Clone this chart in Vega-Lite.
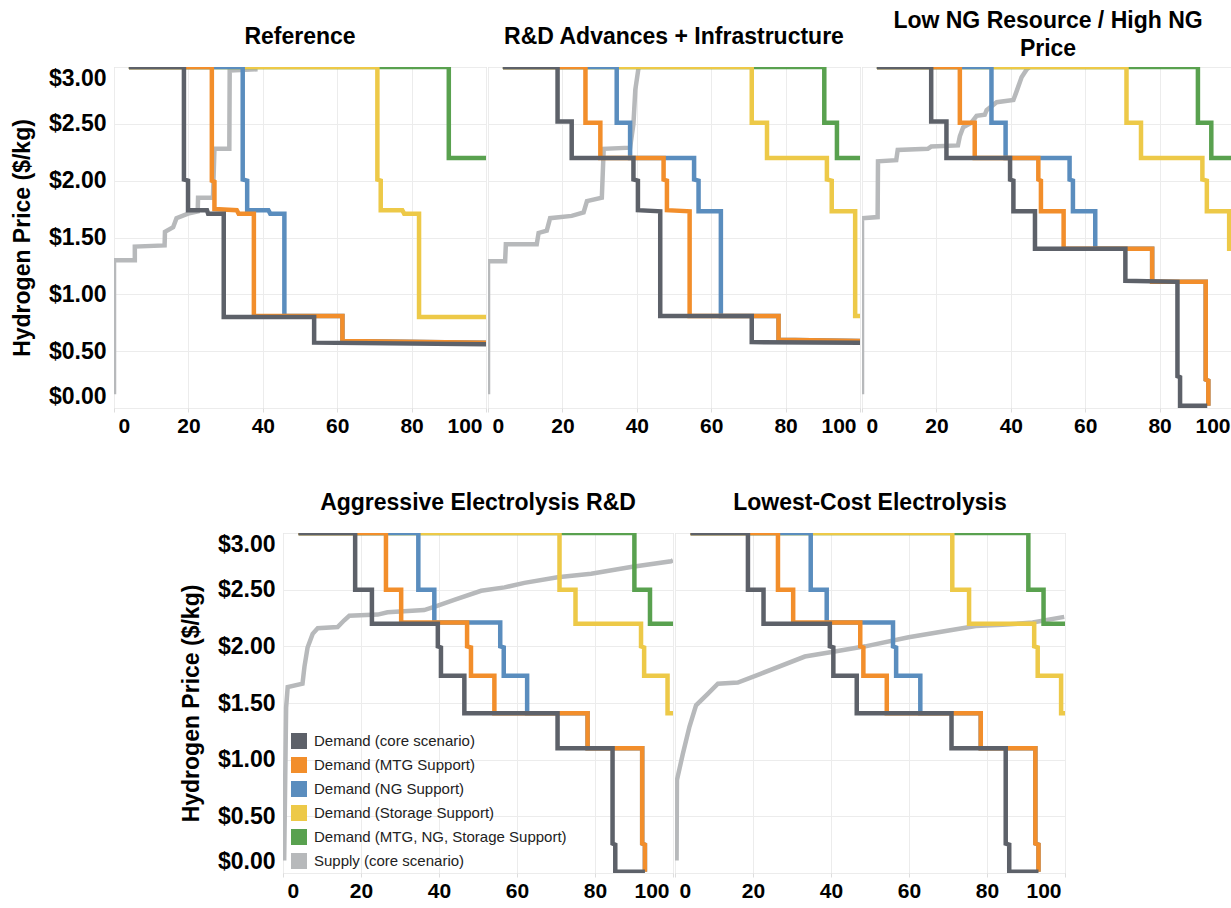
{
"$schema":"https://vega.github.io/schema/vega-lite/v6.json",
"padding":{"left":10,"top":9,"right":2,"bottom":5},
"background":"#ffffff",
"data":{"values":[
{"p":"R","s":"f","i":0,"x":0,"y":0.12},{"p":"R","s":"f","i":1,"x":0,"y":1.30},{"p":"R","s":"f","i":2,"x":5.6,"y":1.30},{"p":"R","s":"f","i":3,"x":5.6,"y":1.42},{"p":"R","s":"f","i":4,"x":13.6,"y":1.43},{"p":"R","s":"f","i":5,"x":13.7,"y":1.55},{"p":"R","s":"f","i":6,"x":15.9,"y":1.59},{"p":"R","s":"f","i":7,"x":16.8,"y":1.67},{"p":"R","s":"f","i":8,"x":19.9,"y":1.71},{"p":"R","s":"f","i":9,"x":22.5,"y":1.73},{"p":"R","s":"f","i":10,"x":22.6,"y":1.85},{"p":"R","s":"f","i":11,"x":26.6,"y":1.85},{"p":"R","s":"f","i":12,"x":27,"y":2.28},{"p":"R","s":"f","i":13,"x":31,"y":2.28},{"p":"R","s":"f","i":14,"x":31.1,"y":2.97},{"p":"R","s":"f","i":15,"x":38.6,"y":2.98},
{"p":"R","s":"e","i":0,"x":4,"y":3},{"p":"R","s":"e","i":1,"x":90,"y":3},{"p":"R","s":"e","i":2,"x":90,"y":2.2},{"p":"R","s":"e","i":3,"x":100,"y":2.2},
{"p":"R","s":"d","i":0,"x":4,"y":3},{"p":"R","s":"d","i":1,"x":70.8,"y":3},{"p":"R","s":"d","i":2,"x":70.8,"y":2.01},{"p":"R","s":"d","i":3,"x":71.7,"y":2.0},{"p":"R","s":"d","i":4,"x":71.7,"y":1.74},{"p":"R","s":"d","i":5,"x":77.5,"y":1.74},{"p":"R","s":"d","i":6,"x":78,"y":1.71},{"p":"R","s":"d","i":7,"x":82,"y":1.71},{"p":"R","s":"d","i":8,"x":82,"y":0.8},{"p":"R","s":"d","i":9,"x":100,"y":0.8},
{"p":"R","s":"c","i":0,"x":4,"y":3},{"p":"R","s":"c","i":1,"x":34.6,"y":3},{"p":"R","s":"c","i":2,"x":34.6,"y":2.01},{"p":"R","s":"c","i":3,"x":35.8,"y":2.0},{"p":"R","s":"c","i":4,"x":35.8,"y":1.74},{"p":"R","s":"c","i":5,"x":41.5,"y":1.74},{"p":"R","s":"c","i":6,"x":42,"y":1.71},{"p":"R","s":"c","i":7,"x":45.8,"y":1.71},{"p":"R","s":"c","i":8,"x":45.8,"y":0.81},{"p":"R","s":"c","i":9,"x":61.4,"y":0.81},{"p":"R","s":"c","i":10,"x":61.4,"y":0.59},{"p":"R","s":"c","i":11,"x":100,"y":0.575},
{"p":"R","s":"b","i":0,"x":4,"y":3},{"p":"R","s":"b","i":1,"x":26.3,"y":3},{"p":"R","s":"b","i":2,"x":26.3,"y":2.0},{"p":"R","s":"b","i":3,"x":27,"y":1.99},{"p":"R","s":"b","i":4,"x":27,"y":1.75},{"p":"R","s":"b","i":5,"x":33,"y":1.74},{"p":"R","s":"b","i":6,"x":33.5,"y":1.71},{"p":"R","s":"b","i":7,"x":37.6,"y":1.71},{"p":"R","s":"b","i":8,"x":37.6,"y":0.81},{"p":"R","s":"b","i":9,"x":61.4,"y":0.81},{"p":"R","s":"b","i":10,"x":61.4,"y":0.59},{"p":"R","s":"b","i":11,"x":100,"y":0.575},
{"p":"R","s":"a","i":0,"x":4,"y":3},{"p":"R","s":"a","i":1,"x":18.8,"y":3},{"p":"R","s":"a","i":2,"x":18.8,"y":2.01},{"p":"R","s":"a","i":3,"x":19.9,"y":2.0},{"p":"R","s":"a","i":4,"x":19.9,"y":1.74},{"p":"R","s":"a","i":5,"x":25,"y":1.74},{"p":"R","s":"a","i":6,"x":25.3,"y":1.71},{"p":"R","s":"a","i":7,"x":29.5,"y":1.71},{"p":"R","s":"a","i":8,"x":29.5,"y":0.8},{"p":"R","s":"a","i":9,"x":53.8,"y":0.8},{"p":"R","s":"a","i":10,"x":53.8,"y":0.575},{"p":"R","s":"a","i":11,"x":100,"y":0.56},

{"p":"D","s":"f","i":0,"x":0,"y":0.12},{"p":"D","s":"f","i":1,"x":0,"y":1.29},{"p":"D","s":"f","i":2,"x":4.6,"y":1.29},{"p":"D","s":"f","i":3,"x":4.8,"y":1.44},{"p":"D","s":"f","i":4,"x":13.1,"y":1.44},{"p":"D","s":"f","i":5,"x":13.6,"y":1.54},{"p":"D","s":"f","i":6,"x":15.8,"y":1.56},{"p":"D","s":"f","i":7,"x":16.7,"y":1.67},{"p":"D","s":"f","i":8,"x":22.5,"y":1.69},{"p":"D","s":"f","i":9,"x":25.7,"y":1.72},{"p":"D","s":"f","i":10,"x":26.6,"y":1.82},{"p":"D","s":"f","i":11,"x":30.6,"y":1.85},{"p":"D","s":"f","i":12,"x":31.1,"y":2.28},{"p":"D","s":"f","i":13,"x":38.2,"y":2.29},{"p":"D","s":"f","i":14,"x":39.1,"y":2.5},{"p":"D","s":"f","i":15,"x":39.6,"y":2.8},{"p":"D","s":"f","i":16,"x":40.5,"y":3.0},
{"p":"D","s":"e","i":0,"x":4,"y":3},{"p":"D","s":"e","i":1,"x":90.4,"y":3},{"p":"D","s":"e","i":2,"x":90.4,"y":2.51},{"p":"D","s":"e","i":3,"x":93.8,"y":2.51},{"p":"D","s":"e","i":4,"x":93.8,"y":2.2},{"p":"D","s":"e","i":5,"x":100,"y":2.2},
{"p":"D","s":"d","i":0,"x":4,"y":3},{"p":"D","s":"d","i":1,"x":70.9,"y":3},{"p":"D","s":"d","i":2,"x":70.9,"y":2.51},{"p":"D","s":"d","i":3,"x":75,"y":2.51},{"p":"D","s":"d","i":4,"x":75,"y":2.2},{"p":"D","s":"d","i":5,"x":91.1,"y":2.2},{"p":"D","s":"d","i":6,"x":91.1,"y":2.01},{"p":"D","s":"d","i":7,"x":92.4,"y":2.0},{"p":"D","s":"d","i":8,"x":92.4,"y":1.73},{"p":"D","s":"d","i":9,"x":98.7,"y":1.73},{"p":"D","s":"d","i":10,"x":98.7,"y":0.81},{"p":"D","s":"d","i":11,"x":100,"y":0.81},
{"p":"D","s":"c","i":0,"x":4,"y":3},{"p":"D","s":"c","i":1,"x":34.6,"y":3},{"p":"D","s":"c","i":2,"x":34.6,"y":2.51},{"p":"D","s":"c","i":3,"x":38.2,"y":2.51},{"p":"D","s":"c","i":4,"x":38.2,"y":2.2},{"p":"D","s":"c","i":5,"x":55.4,"y":2.2},{"p":"D","s":"c","i":6,"x":55.4,"y":2.01},{"p":"D","s":"c","i":7,"x":56.6,"y":2.0},{"p":"D","s":"c","i":8,"x":56.6,"y":1.73},{"p":"D","s":"c","i":9,"x":62.6,"y":1.73},{"p":"D","s":"c","i":10,"x":62.6,"y":0.81},{"p":"D","s":"c","i":11,"x":78.1,"y":0.81},{"p":"D","s":"c","i":12,"x":78.1,"y":0.6},{"p":"D","s":"c","i":13,"x":100,"y":0.59},
{"p":"D","s":"b","i":0,"x":4,"y":3},{"p":"D","s":"b","i":1,"x":26.2,"y":3},{"p":"D","s":"b","i":2,"x":26.2,"y":2.51},{"p":"D","s":"b","i":3,"x":30.2,"y":2.51},{"p":"D","s":"b","i":4,"x":30.2,"y":2.2},{"p":"D","s":"b","i":5,"x":47.2,"y":2.2},{"p":"D","s":"b","i":6,"x":47.2,"y":2.01},{"p":"D","s":"b","i":7,"x":48.1,"y":2.0},{"p":"D","s":"b","i":8,"x":48.1,"y":1.74},{"p":"D","s":"b","i":9,"x":54.2,"y":1.73},{"p":"D","s":"b","i":10,"x":54.2,"y":0.81},{"p":"D","s":"b","i":11,"x":78.1,"y":0.81},{"p":"D","s":"b","i":12,"x":78.1,"y":0.6},{"p":"D","s":"b","i":13,"x":100,"y":0.59},
{"p":"D","s":"a","i":0,"x":4,"y":3},{"p":"D","s":"a","i":1,"x":18.7,"y":3},{"p":"D","s":"a","i":2,"x":18.7,"y":2.52},{"p":"D","s":"a","i":3,"x":22.5,"y":2.52},{"p":"D","s":"a","i":4,"x":22.5,"y":2.2},{"p":"D","s":"a","i":5,"x":39.1,"y":2.2},{"p":"D","s":"a","i":6,"x":39.1,"y":2.01},{"p":"D","s":"a","i":7,"x":40.3,"y":2.0},{"p":"D","s":"a","i":8,"x":40.3,"y":1.74},{"p":"D","s":"a","i":9,"x":46.3,"y":1.73},{"p":"D","s":"a","i":10,"x":46.3,"y":0.81},{"p":"D","s":"a","i":11,"x":70.9,"y":0.81},{"p":"D","s":"a","i":12,"x":70.9,"y":0.58},{"p":"D","s":"a","i":13,"x":100,"y":0.575},

{"p":"N","s":"f","i":0,"x":0,"y":0.12},{"p":"N","s":"f","i":1,"x":0,"y":1.67},{"p":"N","s":"f","i":2,"x":4.2,"y":1.68},{"p":"N","s":"f","i":3,"x":4.3,"y":2.17},{"p":"N","s":"f","i":4,"x":9.2,"y":2.18},{"p":"N","s":"f","i":5,"x":9.6,"y":2.27},{"p":"N","s":"f","i":6,"x":17.7,"y":2.28},{"p":"N","s":"f","i":7,"x":18.6,"y":2.3},{"p":"N","s":"f","i":8,"x":25.8,"y":2.31},{"p":"N","s":"f","i":9,"x":26.3,"y":2.39},{"p":"N","s":"f","i":10,"x":27.2,"y":2.47},{"p":"N","s":"f","i":11,"x":29.4,"y":2.51},{"p":"N","s":"f","i":12,"x":30.8,"y":2.57},{"p":"N","s":"f","i":13,"x":33,"y":2.58},{"p":"N","s":"f","i":14,"x":33.5,"y":2.62},{"p":"N","s":"f","i":15,"x":36.2,"y":2.69},{"p":"N","s":"f","i":16,"x":40.7,"y":2.71},{"p":"N","s":"f","i":17,"x":41.6,"y":2.79},{"p":"N","s":"f","i":18,"x":42.9,"y":2.91},{"p":"N","s":"f","i":19,"x":44.3,"y":2.98},{"p":"N","s":"f","i":20,"x":45,"y":3.0},
{"p":"N","s":"e","i":0,"x":4,"y":3},{"p":"N","s":"e","i":1,"x":90.3,"y":3},{"p":"N","s":"e","i":2,"x":90.3,"y":2.51},{"p":"N","s":"e","i":3,"x":93.9,"y":2.51},{"p":"N","s":"e","i":4,"x":93.9,"y":2.2},{"p":"N","s":"e","i":5,"x":100,"y":2.2},
{"p":"N","s":"d","i":0,"x":4,"y":3},{"p":"N","s":"d","i":1,"x":71.1,"y":3},{"p":"N","s":"d","i":2,"x":71.1,"y":2.51},{"p":"N","s":"d","i":3,"x":75,"y":2.51},{"p":"N","s":"d","i":4,"x":75,"y":2.2},{"p":"N","s":"d","i":5,"x":91.5,"y":2.2},{"p":"N","s":"d","i":6,"x":91.5,"y":2.01},{"p":"N","s":"d","i":7,"x":92.7,"y":2.0},{"p":"N","s":"d","i":8,"x":92.7,"y":1.73},{"p":"N","s":"d","i":9,"x":98.7,"y":1.73},{"p":"N","s":"d","i":10,"x":98.7,"y":1.4},{"p":"N","s":"d","i":11,"x":100,"y":1.4},
{"p":"N","s":"c","i":0,"x":4,"y":3},{"p":"N","s":"c","i":1,"x":34.8,"y":3},{"p":"N","s":"c","i":2,"x":34.8,"y":2.51},{"p":"N","s":"c","i":3,"x":38.6,"y":2.51},{"p":"N","s":"c","i":4,"x":38.6,"y":2.2},{"p":"N","s":"c","i":5,"x":55.8,"y":2.2},{"p":"N","s":"c","i":6,"x":55.8,"y":2.01},{"p":"N","s":"c","i":7,"x":56.7,"y":2.0},{"p":"N","s":"c","i":8,"x":56.7,"y":1.73},{"p":"N","s":"c","i":9,"x":62.7,"y":1.73},{"p":"N","s":"c","i":10,"x":62.7,"y":1.4},{"p":"N","s":"c","i":11,"x":78,"y":1.4},{"p":"N","s":"c","i":12,"x":78,"y":1.11},{"p":"N","s":"c","i":13,"x":92.4,"y":1.11},{"p":"N","s":"c","i":14,"x":92.4,"y":0.25},{"p":"N","s":"c","i":15,"x":93.1,"y":0.24},{"p":"N","s":"c","i":16,"x":93.1,"y":0.02},
{"p":"N","s":"b","i":0,"x":4,"y":3},{"p":"N","s":"b","i":1,"x":26.3,"y":3},{"p":"N","s":"b","i":2,"x":26.3,"y":2.51},{"p":"N","s":"b","i":3,"x":30.3,"y":2.51},{"p":"N","s":"b","i":4,"x":30.3,"y":2.2},{"p":"N","s":"b","i":5,"x":47.4,"y":2.2},{"p":"N","s":"b","i":6,"x":47.4,"y":2.01},{"p":"N","s":"b","i":7,"x":48.1,"y":2.0},{"p":"N","s":"b","i":8,"x":48.1,"y":1.73},{"p":"N","s":"b","i":9,"x":54.2,"y":1.73},{"p":"N","s":"b","i":10,"x":54.2,"y":1.4},{"p":"N","s":"b","i":11,"x":78,"y":1.4},{"p":"N","s":"b","i":12,"x":78,"y":1.11},{"p":"N","s":"b","i":13,"x":92.4,"y":1.11},{"p":"N","s":"b","i":14,"x":92.4,"y":0.25},{"p":"N","s":"b","i":15,"x":93.1,"y":0.24},{"p":"N","s":"b","i":16,"x":93.1,"y":0.02},
{"p":"N","s":"a","i":0,"x":4,"y":3},{"p":"N","s":"a","i":1,"x":18.6,"y":3},{"p":"N","s":"a","i":2,"x":18.6,"y":2.52},{"p":"N","s":"a","i":3,"x":22.7,"y":2.52},{"p":"N","s":"a","i":4,"x":22.7,"y":2.2},{"p":"N","s":"a","i":5,"x":39.8,"y":2.2},{"p":"N","s":"a","i":6,"x":39.8,"y":2.01},{"p":"N","s":"a","i":7,"x":40.7,"y":2.0},{"p":"N","s":"a","i":8,"x":40.7,"y":1.73},{"p":"N","s":"a","i":9,"x":46.5,"y":1.73},{"p":"N","s":"a","i":10,"x":46.5,"y":1.4},{"p":"N","s":"a","i":11,"x":70.8,"y":1.4},{"p":"N","s":"a","i":12,"x":70.8,"y":1.12},{"p":"N","s":"a","i":13,"x":84.8,"y":1.11},{"p":"N","s":"a","i":14,"x":84.8,"y":0.28},{"p":"N","s":"a","i":15,"x":85.5,"y":0.27},{"p":"N","s":"a","i":16,"x":85.5,"y":0.02},{"p":"N","s":"a","i":17,"x":92.8,"y":0.02},

{"p":"A","s":"f","i":0,"x":0.3,"y":0.11},{"p":"A","s":"f","i":1,"x":0.8,"y":1.46},{"p":"A","s":"f","i":2,"x":1.2,"y":1.64},{"p":"A","s":"f","i":3,"x":5.0,"y":1.67},{"p":"A","s":"f","i":4,"x":5.5,"y":1.82},{"p":"A","s":"f","i":5,"x":6.3,"y":1.99},{"p":"A","s":"f","i":6,"x":7.6,"y":2.11},{"p":"A","s":"f","i":7,"x":8.9,"y":2.16},{"p":"A","s":"f","i":8,"x":14.0,"y":2.17},{"p":"A","s":"f","i":9,"x":15.7,"y":2.23},{"p":"A","s":"f","i":10,"x":17.0,"y":2.27},{"p":"A","s":"f","i":11,"x":24.3,"y":2.28},{"p":"A","s":"f","i":12,"x":26.8,"y":2.3},{"p":"A","s":"f","i":13,"x":36.2,"y":2.32},{"p":"A","s":"f","i":14,"x":39.7,"y":2.36},{"p":"A","s":"f","i":15,"x":43.9,"y":2.41},{"p":"A","s":"f","i":16,"x":50.8,"y":2.49},{"p":"A","s":"f","i":17,"x":56.8,"y":2.52},{"p":"A","s":"f","i":18,"x":61.9,"y":2.56},{"p":"A","s":"f","i":19,"x":70.4,"y":2.61},{"p":"A","s":"f","i":20,"x":79,"y":2.64},{"p":"A","s":"f","i":21,"x":89.2,"y":2.7},{"p":"A","s":"f","i":22,"x":99.5,"y":2.75},{"p":"A","s":"f","i":23,"x":100,"y":2.76},
{"p":"A","s":"e","i":0,"x":4,"y":3},{"p":"A","s":"e","i":1,"x":90.1,"y":3},{"p":"A","s":"e","i":2,"x":90.1,"y":2.5},{"p":"A","s":"e","i":3,"x":94.1,"y":2.5},{"p":"A","s":"e","i":4,"x":94.1,"y":2.2},{"p":"A","s":"e","i":5,"x":100,"y":2.2},
{"p":"A","s":"d","i":0,"x":4,"y":3},{"p":"A","s":"d","i":1,"x":70.9,"y":3},{"p":"A","s":"d","i":2,"x":70.9,"y":2.5},{"p":"A","s":"d","i":3,"x":75,"y":2.5},{"p":"A","s":"d","i":4,"x":75,"y":2.2},{"p":"A","s":"d","i":5,"x":91.8,"y":2.2},{"p":"A","s":"d","i":6,"x":91.8,"y":2.0},{"p":"A","s":"d","i":7,"x":92.6,"y":1.99},{"p":"A","s":"d","i":8,"x":92.6,"y":1.74},{"p":"A","s":"d","i":9,"x":98.6,"y":1.74},{"p":"A","s":"d","i":10,"x":98.6,"y":1.41},{"p":"A","s":"d","i":11,"x":100,"y":1.41},
{"p":"A","s":"c","i":0,"x":4,"y":3},{"p":"A","s":"c","i":1,"x":34.7,"y":3},{"p":"A","s":"c","i":2,"x":34.7,"y":2.5},{"p":"A","s":"c","i":3,"x":38.8,"y":2.5},{"p":"A","s":"c","i":4,"x":38.8,"y":2.21},{"p":"A","s":"c","i":5,"x":55.7,"y":2.21},{"p":"A","s":"c","i":6,"x":55.7,"y":2.0},{"p":"A","s":"c","i":7,"x":56.6,"y":1.99},{"p":"A","s":"c","i":8,"x":56.6,"y":1.74},{"p":"A","s":"c","i":9,"x":62.6,"y":1.74},{"p":"A","s":"c","i":10,"x":62.6,"y":1.41},{"p":"A","s":"c","i":11,"x":78.1,"y":1.41},{"p":"A","s":"c","i":12,"x":78.1,"y":1.1},{"p":"A","s":"c","i":13,"x":92.1,"y":1.1},{"p":"A","s":"c","i":14,"x":92.1,"y":0.26},{"p":"A","s":"c","i":15,"x":92.8,"y":0.25},{"p":"A","s":"c","i":16,"x":92.8,"y":0.01},
{"p":"A","s":"b","i":0,"x":4,"y":3},{"p":"A","s":"b","i":1,"x":26.4,"y":3},{"p":"A","s":"b","i":2,"x":26.4,"y":2.5},{"p":"A","s":"b","i":3,"x":30.3,"y":2.5},{"p":"A","s":"b","i":4,"x":30.3,"y":2.21},{"p":"A","s":"b","i":5,"x":47.2,"y":2.21},{"p":"A","s":"b","i":6,"x":47.2,"y":2.0},{"p":"A","s":"b","i":7,"x":48.2,"y":1.99},{"p":"A","s":"b","i":8,"x":48.2,"y":1.74},{"p":"A","s":"b","i":9,"x":54.2,"y":1.74},{"p":"A","s":"b","i":10,"x":54.2,"y":1.41},{"p":"A","s":"b","i":11,"x":78.1,"y":1.41},{"p":"A","s":"b","i":12,"x":78.1,"y":1.1},{"p":"A","s":"b","i":13,"x":92.1,"y":1.1},{"p":"A","s":"b","i":14,"x":92.1,"y":0.26},{"p":"A","s":"b","i":15,"x":92.8,"y":0.25},{"p":"A","s":"b","i":16,"x":92.8,"y":0.01},
{"p":"A","s":"a","i":0,"x":4,"y":3},{"p":"A","s":"a","i":1,"x":18.5,"y":3},{"p":"A","s":"a","i":2,"x":18.5,"y":2.5},{"p":"A","s":"a","i":3,"x":22.8,"y":2.5},{"p":"A","s":"a","i":4,"x":22.8,"y":2.2},{"p":"A","s":"a","i":5,"x":39.7,"y":2.2},{"p":"A","s":"a","i":6,"x":39.7,"y":2.0},{"p":"A","s":"a","i":7,"x":40.5,"y":1.99},{"p":"A","s":"a","i":8,"x":40.5,"y":1.74},{"p":"A","s":"a","i":9,"x":46.5,"y":1.74},{"p":"A","s":"a","i":10,"x":46.5,"y":1.41},{"p":"A","s":"a","i":11,"x":70.4,"y":1.41},{"p":"A","s":"a","i":12,"x":70.4,"y":1.1},{"p":"A","s":"a","i":13,"x":84.5,"y":1.1},{"p":"A","s":"a","i":14,"x":84.5,"y":0.26},{"p":"A","s":"a","i":15,"x":85.2,"y":0.25},{"p":"A","s":"a","i":16,"x":85.2,"y":0.01},{"p":"A","s":"a","i":17,"x":92.8,"y":0.01},

{"p":"L","s":"f","i":0,"x":0.4,"y":0.11},{"p":"L","s":"f","i":1,"x":0.5,"y":0.82},{"p":"L","s":"f","i":2,"x":2.0,"y":1.05},{"p":"L","s":"f","i":3,"x":3.7,"y":1.29},{"p":"L","s":"f","i":4,"x":5.4,"y":1.48},{"p":"L","s":"f","i":5,"x":8.4,"y":1.58},{"p":"L","s":"f","i":6,"x":11,"y":1.67},{"p":"L","s":"f","i":7,"x":16.1,"y":1.68},{"p":"L","s":"f","i":8,"x":22.1,"y":1.76},{"p":"L","s":"f","i":9,"x":33.3,"y":1.91},{"p":"L","s":"f","i":10,"x":40.2,"y":1.95},{"p":"L","s":"f","i":11,"x":48.8,"y":2.0},{"p":"L","s":"f","i":12,"x":59.9,"y":2.08},{"p":"L","s":"f","i":13,"x":70.2,"y":2.14},{"p":"L","s":"f","i":14,"x":77.1,"y":2.18},{"p":"L","s":"f","i":15,"x":84,"y":2.19},{"p":"L","s":"f","i":16,"x":91.7,"y":2.21},{"p":"L","s":"f","i":17,"x":99.8,"y":2.26},
{"p":"L","s":"e","i":0,"x":4,"y":3},{"p":"L","s":"e","i":1,"x":90.6,"y":3},{"p":"L","s":"e","i":2,"x":90.6,"y":2.5},{"p":"L","s":"e","i":3,"x":94.5,"y":2.5},{"p":"L","s":"e","i":4,"x":94.5,"y":2.2},{"p":"L","s":"e","i":5,"x":100,"y":2.2},
{"p":"L","s":"d","i":0,"x":4,"y":3},{"p":"L","s":"d","i":1,"x":71.1,"y":3},{"p":"L","s":"d","i":2,"x":71.1,"y":2.5},{"p":"L","s":"d","i":3,"x":75.4,"y":2.5},{"p":"L","s":"d","i":4,"x":75.4,"y":2.2},{"p":"L","s":"d","i":5,"x":92.1,"y":2.2},{"p":"L","s":"d","i":6,"x":92.1,"y":2.0},{"p":"L","s":"d","i":7,"x":93,"y":1.99},{"p":"L","s":"d","i":8,"x":93,"y":1.74},{"p":"L","s":"d","i":9,"x":99,"y":1.74},{"p":"L","s":"d","i":10,"x":99,"y":1.41},{"p":"L","s":"d","i":11,"x":100,"y":1.41},
{"p":"L","s":"c","i":0,"x":4,"y":3},{"p":"L","s":"c","i":1,"x":34.8,"y":3},{"p":"L","s":"c","i":2,"x":34.8,"y":2.5},{"p":"L","s":"c","i":3,"x":38.9,"y":2.5},{"p":"L","s":"c","i":4,"x":38.9,"y":2.21},{"p":"L","s":"c","i":5,"x":55.9,"y":2.21},{"p":"L","s":"c","i":6,"x":55.9,"y":2.0},{"p":"L","s":"c","i":7,"x":56.7,"y":1.99},{"p":"L","s":"c","i":8,"x":56.7,"y":1.74},{"p":"L","s":"c","i":9,"x":62.9,"y":1.74},{"p":"L","s":"c","i":10,"x":62.9,"y":1.41},{"p":"L","s":"c","i":11,"x":78.4,"y":1.41},{"p":"L","s":"c","i":12,"x":78.4,"y":1.1},{"p":"L","s":"c","i":13,"x":92.4,"y":1.1},{"p":"L","s":"c","i":14,"x":92.4,"y":0.26},{"p":"L","s":"c","i":15,"x":93.2,"y":0.25},{"p":"L","s":"c","i":16,"x":93.2,"y":0.01},
{"p":"L","s":"b","i":0,"x":4,"y":3},{"p":"L","s":"b","i":1,"x":26.4,"y":3},{"p":"L","s":"b","i":2,"x":26.4,"y":2.5},{"p":"L","s":"b","i":3,"x":30.3,"y":2.5},{"p":"L","s":"b","i":4,"x":30.3,"y":2.21},{"p":"L","s":"b","i":5,"x":47.5,"y":2.21},{"p":"L","s":"b","i":6,"x":47.5,"y":2.0},{"p":"L","s":"b","i":7,"x":48.3,"y":1.99},{"p":"L","s":"b","i":8,"x":48.3,"y":1.74},{"p":"L","s":"b","i":9,"x":54.3,"y":1.74},{"p":"L","s":"b","i":10,"x":54.3,"y":1.41},{"p":"L","s":"b","i":11,"x":78.4,"y":1.41},{"p":"L","s":"b","i":12,"x":78.4,"y":1.1},{"p":"L","s":"b","i":13,"x":92.4,"y":1.1},{"p":"L","s":"b","i":14,"x":92.4,"y":0.26},{"p":"L","s":"b","i":15,"x":93.2,"y":0.25},{"p":"L","s":"b","i":16,"x":93.2,"y":0.01},
{"p":"L","s":"a","i":0,"x":4,"y":3},{"p":"L","s":"a","i":1,"x":18.7,"y":3},{"p":"L","s":"a","i":2,"x":18.7,"y":2.5},{"p":"L","s":"a","i":3,"x":22.7,"y":2.5},{"p":"L","s":"a","i":4,"x":22.7,"y":2.2},{"p":"L","s":"a","i":5,"x":39.7,"y":2.2},{"p":"L","s":"a","i":6,"x":39.7,"y":2.0},{"p":"L","s":"a","i":7,"x":40.6,"y":1.99},{"p":"L","s":"a","i":8,"x":40.6,"y":1.74},{"p":"L","s":"a","i":9,"x":46.6,"y":1.74},{"p":"L","s":"a","i":10,"x":46.6,"y":1.41},{"p":"L","s":"a","i":11,"x":70.9,"y":1.41},{"p":"L","s":"a","i":12,"x":70.9,"y":1.1},{"p":"L","s":"a","i":13,"x":84.8,"y":1.1},{"p":"L","s":"a","i":14,"x":84.8,"y":0.26},{"p":"L","s":"a","i":15,"x":85.7,"y":0.25},{"p":"L","s":"a","i":16,"x":85.7,"y":0.01},{"p":"L","s":"a","i":17,"x":93.2,"y":0.01}
]},
"config":{
"font":"Liberation Sans",
"view":{"stroke":"#d0d0d0","strokeWidth":1},
"axis":{"domain":false,"grid":true,"gridColor":"#ececec","gridWidth":1,"labelFont":"Liberation Sans","labelFontWeight":"bold","labelColor":"#000000","titleFont":"Liberation Sans","titleFontWeight":"bold","titleColor":"#000000"},
"title":{"font":"Liberation Sans","fontSize":23,"fontWeight":"bold","color":"#000000","anchor":"middle","baseline":"bottom","lineHeight":28,"offset":18},
"legend":{"orient":"none","legendX":177,"legendY":666,"title":null,"symbolType":"square","symbolSize":256,"symbolStrokeWidth":0,"labelFontSize":15,"labelFont":"Liberation Sans","labelColor":"#222222","rowPadding":8,"labelOffset":7,"padding":0,"labelLimit":400}
},
"spacing":54,
"center":true,
"resolve":{"scale":{"color":"shared"},"legend":{"color":"shared"}},
"vconcat":[
{"spacing":0,"hconcat":[
{"width":372,"height":341,"title":{"text":"Reference"},"transform":[{"filter":"datum.p=='R'"}],
"mark":{"type":"line","strokeWidth":4.5,"clip":true,"strokeJoin":"miter"},
"encoding":{
"x":{"field":"x","type":"quantitative","scale":{"domain":[0,100],"nice":false,"zero":false},"axis":{"values":[0,20,40,60,80,100],"title":null,"labelFlush":true,"labelFlushOffset":-4,"labelFontSize":21,"labelPadding":3,"ticks":true,"tickSize":4,"tickColor":"#dddddd"}},
"y":{"field":"y","type":"quantitative","scale":{"domain":[0,3],"nice":false},"axis":{"values":[0,0.5,1,1.5,2,2.5,3],"format":"$.2f","title":"Hydrogen Price ($/kg)","titleFontSize":23,"titlePadding":14,"labelFontSize":23,"labelPadding":8,"labelFlush":true,"ticks":false}},
"color":{"field":"s","type":"nominal","scale":{"domain":["a","b","c","d","e","f"],"range":["#5d6169","#f28e2b","#5a8dbe","#edc948","#59a14f","#b7b9bb"]},"legend":{"labelExpr":"datum.label=='a'?'Demand (core scenario)':datum.label=='b'?'Demand (MTG Support)':datum.label=='c'?'Demand (NG Support)':datum.label=='d'?'Demand (Storage Support)':datum.label=='e'?'Demand (MTG, NG, Storage Support)':'Supply (core scenario)'","encode":{"symbols":{"update":{"fill":{"signal":"scale('color', datum.value)"},"opacity":{"value":1}}}}}},
"order":{"field":"i","type":"quantitative"}}},
{"width":372,"height":341,"title":{"text":"R&D Advances + Infrastructure"},"transform":[{"filter":"datum.p=='D'"}],
"mark":{"type":"line","strokeWidth":4.5,"clip":true,"strokeJoin":"miter"},
"encoding":{
"x":{"field":"x","type":"quantitative","scale":{"domain":[0,100],"nice":false,"zero":false},"axis":{"values":[0,20,40,60,80,100],"title":null,"labelFlush":true,"labelFlushOffset":-4,"labelFontSize":21,"labelPadding":3,"ticks":true,"tickSize":4,"tickColor":"#dddddd"}},
"y":{"field":"y","type":"quantitative","scale":{"domain":[0,3],"nice":false},"axis":{"values":[0,0.5,1,1.5,2,2.5,3],"labels":false,"title":null,"ticks":false}},
"color":{"field":"s","type":"nominal","scale":{"domain":["a","b","c","d","e","f"],"range":["#5d6169","#f28e2b","#5a8dbe","#edc948","#59a14f","#b7b9bb"]},"legend":{"labelExpr":"datum.label=='a'?'Demand (core scenario)':datum.label=='b'?'Demand (MTG Support)':datum.label=='c'?'Demand (NG Support)':datum.label=='d'?'Demand (Storage Support)':datum.label=='e'?'Demand (MTG, NG, Storage Support)':'Supply (core scenario)'","encode":{"symbols":{"update":{"fill":{"signal":"scale('color', datum.value)"},"opacity":{"value":1}}}}}},
"order":{"field":"i","type":"quantitative"}}},
{"width":372,"height":341,"title":{"text":["Low NG Resource / High NG","Price"],"offset":6},"transform":[{"filter":"datum.p=='N'"}],
"mark":{"type":"line","strokeWidth":4.5,"clip":true,"strokeJoin":"miter"},
"encoding":{
"x":{"field":"x","type":"quantitative","scale":{"domain":[0,100],"nice":false,"zero":false},"axis":{"values":[0,20,40,60,80,100],"title":null,"labelFlush":true,"labelFlushOffset":-4,"labelFontSize":21,"labelPadding":3,"ticks":true,"tickSize":4,"tickColor":"#dddddd"}},
"y":{"field":"y","type":"quantitative","scale":{"domain":[0,3],"nice":false},"axis":{"values":[0,0.5,1,1.5,2,2.5,3],"labels":false,"title":null,"ticks":false}},
"color":{"field":"s","type":"nominal","scale":{"domain":["a","b","c","d","e","f"],"range":["#5d6169","#f28e2b","#5a8dbe","#edc948","#59a14f","#b7b9bb"]},"legend":{"labelExpr":"datum.label=='a'?'Demand (core scenario)':datum.label=='b'?'Demand (MTG Support)':datum.label=='c'?'Demand (NG Support)':datum.label=='d'?'Demand (Storage Support)':datum.label=='e'?'Demand (MTG, NG, Storage Support)':'Supply (core scenario)'","encode":{"symbols":{"update":{"fill":{"signal":"scale('color', datum.value)"},"opacity":{"value":1}}}}}},
"order":{"field":"i","type":"quantitative"}}}
]},
{"spacing":0,"hconcat":[
{"width":390,"height":340,"title":{"text":"Aggressive Electrolysis R&D"},"transform":[{"filter":"datum.p=='A'"}],
"mark":{"type":"line","strokeWidth":4.5,"clip":true,"strokeJoin":"miter"},
"encoding":{
"x":{"field":"x","type":"quantitative","scale":{"domain":[0,100],"nice":false,"zero":false},"axis":{"values":[0,20,40,60,80,100],"title":null,"labelFlush":true,"labelFlushOffset":-4,"labelFontSize":21,"labelPadding":3,"ticks":true,"tickSize":4,"tickColor":"#dddddd"}},
"y":{"field":"y","type":"quantitative","scale":{"domain":[0,3],"nice":false},"axis":{"values":[0,0.5,1,1.5,2,2.5,3],"format":"$.2f","title":"Hydrogen Price ($/kg)","titleFontSize":23,"titlePadding":14,"labelFontSize":23,"labelPadding":8,"labelFlush":true,"ticks":false}},
"color":{"field":"s","type":"nominal","scale":{"domain":["a","b","c","d","e","f"],"range":["#5d6169","#f28e2b","#5a8dbe","#edc948","#59a14f","#b7b9bb"]},"legend":{"labelExpr":"datum.label=='a'?'Demand (core scenario)':datum.label=='b'?'Demand (MTG Support)':datum.label=='c'?'Demand (NG Support)':datum.label=='d'?'Demand (Storage Support)':datum.label=='e'?'Demand (MTG, NG, Storage Support)':'Supply (core scenario)'","encode":{"symbols":{"update":{"fill":{"signal":"scale('color', datum.value)"},"opacity":{"value":1}}}}}},
"order":{"field":"i","type":"quantitative"}}},
{"width":390,"height":340,"title":{"text":"Lowest-Cost Electrolysis"},"transform":[{"filter":"datum.p=='L'"}],
"mark":{"type":"line","strokeWidth":4.5,"clip":true,"strokeJoin":"miter"},
"encoding":{
"x":{"field":"x","type":"quantitative","scale":{"domain":[0,100],"nice":false,"zero":false},"axis":{"values":[0,20,40,60,80,100],"title":null,"labelFlush":true,"labelFlushOffset":-4,"labelFontSize":21,"labelPadding":3,"ticks":true,"tickSize":4,"tickColor":"#dddddd"}},
"y":{"field":"y","type":"quantitative","scale":{"domain":[0,3],"nice":false},"axis":{"values":[0,0.5,1,1.5,2,2.5,3],"labels":false,"title":null,"ticks":false}},
"color":{"field":"s","type":"nominal","scale":{"domain":["a","b","c","d","e","f"],"range":["#5d6169","#f28e2b","#5a8dbe","#edc948","#59a14f","#b7b9bb"]},"legend":{"labelExpr":"datum.label=='a'?'Demand (core scenario)':datum.label=='b'?'Demand (MTG Support)':datum.label=='c'?'Demand (NG Support)':datum.label=='d'?'Demand (Storage Support)':datum.label=='e'?'Demand (MTG, NG, Storage Support)':'Supply (core scenario)'","encode":{"symbols":{"update":{"fill":{"signal":"scale('color', datum.value)"},"opacity":{"value":1}}}}}},
"order":{"field":"i","type":"quantitative"}}}
]}
]
}
